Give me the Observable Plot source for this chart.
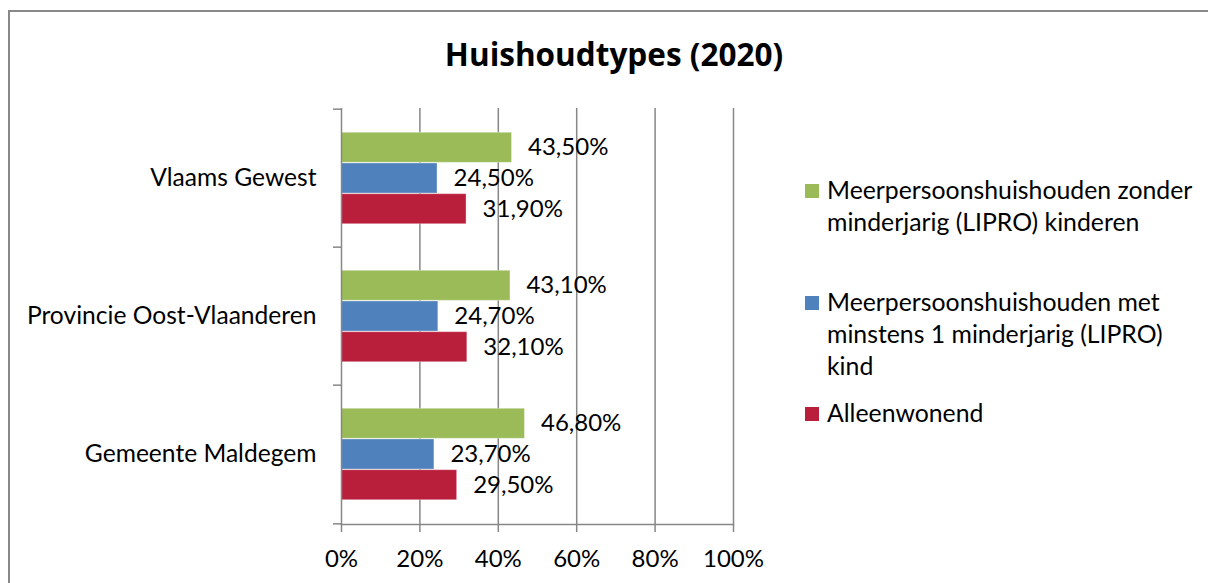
<!DOCTYPE html>
<html>
<head>
<meta charset="utf-8">
<script src="https://cdn.jsdelivr.net/npm/d3@7"></script>
<script src="https://cdn.jsdelivr.net/npm/@observablehq/plot@0.6"></script>
<style>
  html, body { margin: 0; padding: 0; background: #fff; }
  #wrap { position: relative; width: 1208px; height: 583px; overflow: hidden; font-family: Lato, sans-serif; }
  #border { position: absolute; left: 8px; top: 10px; width: 1300px; height: 700px; border-left: 2px solid #888; border-top: 2px solid #888; }
  #title { position: absolute; left: 0; width: 1228px; top: 32px; text-align: center; font-family: "Open Sans", sans-serif; font-weight: 700; font-size: 31.5px; line-height: 44px; color: #000; }
  #chart { position: absolute; left: 0; top: 0; }
  .leg { position: absolute; left: 805px; font-size: 24.8px; line-height: 32px; white-space: pre-line; color: #000; }
  .leg .sw { position: absolute; left: 0; top: 10px; width: 14px; height: 14px; }
  .leg .tx { margin-left: 22px; }
</style>
</head>
<body>
<div id="wrap">
  <div id="border"></div>
  <div id="chart"></div>
  <div id="title">Huishoudtypes (2020)</div>
</div>
<script>
const regions = ["Vlaams Gewest", "Provincie Oost-Vlaanderen", "Gemeente Maldegem"];
const seriesNames = [
  "Meerpersoonshuishouden zonder\nminderjarig (LIPRO) kinderen",
  "Meerpersoonshuishouden met\nminstens 1 minderjarig (LIPRO)\nkind",
  "Alleenwonend"
];
const seriesColors = ["#9BBB59", "#4F81BD", "#B91E3B"];
const zonderKinderen = [43.5, 43.1, 46.8];
const metKind = [24.5, 24.7, 23.7];
const alleenwonend = [31.9, 32.1, 29.5];
const xTicks = [0, 20, 40, 60, 80, 100];
const legendTops = [174, 286, 397];

const seriesValues = [zonderKinderen, metKind, alleenwonend];
const data = [];
seriesValues.forEach((vals, s) => vals.forEach((v, r) => data.push({region: regions[r], series: s, value: v})));

const W = 1208, H = 583, mL = 341, mR = 475, mT = 108, mB = 59;
const bw = (H - mT - mB) / regions.length;
const barH = bw * 0.2215;
const padOuter = (bw - 3 * barH) / 2;
const fmt = v => v.toFixed(2).replace(".", ",") + "%";
const grid = "#878787";

const marks = [
  Plot.ruleX(xTicks.slice(1), {stroke: grid, strokeWidth: 1.5}),
];
[0, 1, 2].forEach(s => {
  const top = padOuter + s * barH;
  marks.push(Plot.barX(data.filter(d => d.series === s), {
    x: "value", y: "region", fill: seriesColors[s],
    insetTop: top, insetBottom: bw - top - barH,
    stroke: "#ffffff", strokeOpacity: 0.35, strokeWidth: 1
  }));
  marks.push(Plot.text(data.filter(d => d.series === s), {
    x: "value", y: "region", text: d => fmt(d.value),
    textAnchor: "start", dx: 16, dy: (s - 1) * barH, fontSize: 24, fill: "#000"
  }));
});
marks.push(
  Plot.ruleX([0], {stroke: grid, strokeWidth: 1.5}),
  Plot.frame({anchor: "bottom", stroke: grid, strokeWidth: 1.5}),
  Plot.axisX({ticks: xTicks, tickSize: 8, tickPadding: 17, tickFormat: d => d + "%", label: null, stroke: grid, strokeWidth: 1.5, fontSize: 24, fill: "#000", strokeOpacity: 1}),
  Plot.axisY({ticks: regions, tickSize: 0, tickPadding: 25, label: null, fontSize: 24.6, fill: "#000"}),
  Plot.axisY({ticks: regions, tickSize: 8, tickFormat: () => "", label: null, dy: -bw / 2, stroke: grid, strokeWidth: 1.5, strokeOpacity: 1}),
  Plot.axisY({ticks: regions.slice(-1), tickSize: 8, tickFormat: () => "", label: null, dy: bw / 2, stroke: grid, strokeWidth: 1.5, strokeOpacity: 1})
);

const chart = Plot.plot({
  width: W, height: H,
  marginLeft: mL, marginRight: mR, marginTop: mT, marginBottom: mB,
  x: {domain: [0, 100], axis: null, label: null},
  y: {domain: regions, padding: 0, axis: null, label: null},
  style: {fontFamily: "Lato, sans-serif", fontSize: "24px", color: "#000", background: "transparent", overflow: "visible"},
  marks
});
document.getElementById("chart").appendChild(chart);

const wrap = document.getElementById("wrap");
seriesNames.forEach((name, i) => {
  const el = document.createElement("div");
  el.className = "leg";
  el.style.top = legendTops[i] + "px";
  const sw = document.createElement("div");
  sw.className = "sw";
  sw.style.background = seriesColors[i];
  const tx = document.createElement("div");
  tx.className = "tx";
  tx.textContent = name;
  el.appendChild(sw); el.appendChild(tx);
  wrap.appendChild(el);
});
</script>
</body>
</html>
